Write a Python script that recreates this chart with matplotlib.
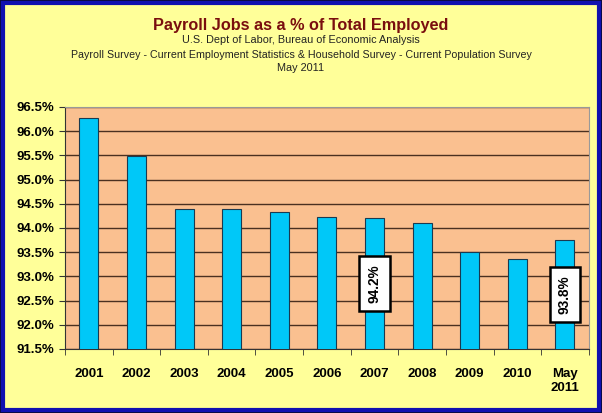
import numpy as np
import matplotlib.pyplot as plt
from matplotlib.patches import Rectangle

# Datos
categorias = ['2001', '2002', '2003', '2004', '2005', '2006', '2007', '2008',
              '2009', '2010', 'May\n2011']
valores = [96.28, 95.49, 94.39, 94.39, 94.34, 94.23, 94.21, 94.10, 93.51, 93.35, 93.75]
etiquetas = {6: '94.2%', 10: '93.8%'}
posicion_etiqueta = {6: 92.85, 10: 92.63}

plt.rcParams['font.family'] = ['Liberation Sans', 'DejaVu Sans']

fig = plt.figure(figsize=(6.02, 4.13), dpi=100)
fig.patch.set_facecolor('#FFFF99')

# Marco exterior azul / negro
fig.add_artist(Rectangle((0, 0), 1, 1, transform=fig.transFigure, fill=False,
                         edgecolor='#0a0a40', linewidth=3))
fig.add_artist(Rectangle((0.005, 0.007), 0.99, 0.986, transform=fig.transFigure,
                         fill=False, edgecolor='#1010b0', linewidth=3))

ax = fig.add_axes([0.108, 0.155, 0.870, 0.586])
ax.set_facecolor('#FAC090')

x = np.arange(len(categorias))
ax.bar(x, valores, width=0.4, color='#00C8F8', edgecolor='#1a3a50',
       linewidth=0.8, zorder=3)

ax.set_ylim(91.5, 96.5)
ax.set_xlim(-0.5, len(categorias) - 0.5)
yt = np.arange(91.5, 96.51, 0.5)
ax.set_yticks(yt)
ax.set_yticklabels([f'{v:.1f}%' for v in yt], fontsize=9.5, fontweight='bold')
ax.yaxis.grid(True, color='#4a3020', linewidth=1.0, zorder=1)

ax.set_xticks(x)
ax.set_xticklabels(categorias, fontsize=9.5, fontweight='bold')
ax.set_xticks(np.arange(-0.5, len(categorias), 1), minor=True)
ax.tick_params(axis='x', which='major', length=0, pad=14)
ax.tick_params(axis='x', which='minor', length=4, direction='out', color='#333333')
ax.tick_params(axis='y', length=4, direction='out', color='#333333', pad=4)

for s in ['top', 'right']:
    ax.spines[s].set_color('#999999')
    ax.spines[s].set_linewidth(0.8)
for s in ['left', 'bottom']:
    ax.spines[s].set_color('#333333')
    ax.spines[s].set_linewidth(0.8)

for i, txt in etiquetas.items():
    ax.text(x[i], posicion_etiqueta[i], txt, rotation=90, ha='center', va='center',
            fontsize=9.8, fontweight='bold', zorder=5,
            bbox=dict(boxstyle='square,pad=0.6', facecolor='white',
                      edgecolor='black', linewidth=1.8))

fig.text(0.5, 0.938, 'Payroll Jobs as a % of Total Employed', ha='center',
         va='center', fontsize=11.7, fontweight='bold', color='#7A0E0E')
fig.text(0.5, 0.902, 'U.S. Dept of Labor, Bureau of Economic Analysis',
         ha='center', va='center', fontsize=7.8, color='#222222')
fig.text(0.5, 0.866, 'Payroll Survey - Current Employment Statistics & Household Survey - Current Population Survey',
         ha='center', va='center', fontsize=7.7, color='#222222')
fig.text(0.5, 0.836, 'May 2011', ha='center', va='center', fontsize=7.8,
         color='#222222')

fig.savefig('out.png', dpi=100, facecolor=fig.get_facecolor())
